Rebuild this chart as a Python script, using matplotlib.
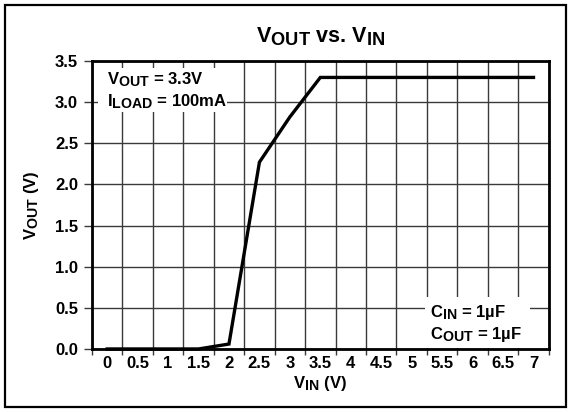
import matplotlib
matplotlib.use('Agg')
import matplotlib.pyplot as plt
import matplotlib._mathtext as mathtext_impl
import numpy as np
from matplotlib.patches import Rectangle

vin_labels = ['0', '0.5', '1', '1.5', '2', '2.5', '3', '3.5',
              '4', '4.5', '5', '5.5', '6', '6.5', '7']
vout = [0, 0, 0, 0, 0.06, 2.27, 2.82, 3.3, 3.3, 3.3, 3.3, 3.3, 3.3, 3.3, 3.3]
y_ticks = [0.0, 0.5, 1.0, 1.5, 2.0, 2.5, 3.0, 3.5]

plt.rcParams['font.family'] = ['Liberation Sans', 'DejaVu Sans']
plt.rcParams['font.weight'] = 'bold'
plt.rcParams['mathtext.fontset'] = 'custom'
plt.rcParams['mathtext.rm'] = 'Liberation Sans:bold'
plt.rcParams['mathtext.it'] = 'Liberation Sans:bold'
plt.rcParams['mathtext.bf'] = 'Liberation Sans:bold'
# subscripts in the original are only a little smaller than the main text
mathtext_impl.SHRINK_FACTOR = 0.85

grid_col = '#3a3a3a'
fs = 12


def main():
    fig = plt.figure(figsize=(5.71, 4.12), dpi=100)
    ax = fig.add_axes([0.161, 0.153, 0.8, 0.699])

    x = np.arange(len(vin_labels))
    ax.plot(x, vout, color='black', linewidth=2.4, zorder=3, clip_on=False,
            solid_joinstyle='miter')

    ax.set_xlim(-0.5, len(vin_labels) - 0.5)
    ax.set_ylim(0, 3.5)

    ax.set_xticks(x)
    ax.set_xticklabels(vin_labels, fontsize=fs, fontweight='bold')
    ax.set_xticks(np.arange(-0.5, len(vin_labels)), minor=True)
    ax.tick_params(axis='x', which='major', length=0, pad=5)
    ax.tick_params(axis='x', which='minor', direction='out', length=4,
                   width=1, color=grid_col)

    ax.set_yticks(y_ticks)
    ax.set_yticklabels(['%.1f' % v for v in y_ticks], fontsize=fs,
                       fontweight='bold')
    ax.tick_params(axis='y', direction='out', length=6, width=1,
                   color=grid_col, pad=4)

    ax.set_axisbelow(True)
    ax.grid(which='minor', axis='x', color=grid_col, linewidth=1)
    ax.grid(which='major', axis='y', color=grid_col, linewidth=1)

    for s in ax.spines.values():
        s.set_linewidth(2)
        s.set_color('black')

    ax.set_xlabel('V$_{\\mathrm{IN}}$ (V)', fontsize=fs, fontweight='bold')
    ax.set_ylabel('V$_{\\mathrm{OUT}}$ (V)', fontsize=fs, fontweight='bold')
    ax.xaxis.set_label_coords(0.5, -0.087)
    ax.yaxis.set_label_coords(-0.112, 0.5)

    # white boxes behind the notes
    ax.add_patch(Rectangle((0.013, 0.823), 0.282, 0.153, transform=ax.transAxes,
                           facecolor='white', edgecolor='none', zorder=1))
    ax.add_patch(Rectangle((0.729, 0.005), 0.23, 0.175, transform=ax.transAxes,
                           facecolor='white', edgecolor='none', zorder=1))

    ax.text(0.033, 0.934, 'V$_{\\mathrm{OUT}}$ = 3.3V', transform=ax.transAxes,
            fontsize=fs, fontweight='bold', va='center', zorder=4)
    ax.text(0.033, 0.858, 'I$_{\\mathrm{LOAD}}$ = 100mA', transform=ax.transAxes,
            fontsize=fs, fontweight='bold', va='center', zorder=4)
    ax.text(0.74, 0.125, 'C$_{\\mathrm{IN}}$ = 1\u00b5F', transform=ax.transAxes,
            fontsize=fs, fontweight='bold', va='center', zorder=4)
    ax.text(0.74, 0.049, 'C$_{\\mathrm{OUT}}$ = 1\u00b5F', transform=ax.transAxes,
            fontsize=fs, fontweight='bold', va='center', zorder=4)

    fig.text(0.561, 0.91, 'V$_{\\mathrm{OUT}}$ vs. V$_{\\mathrm{IN}}$',
             ha='center', va='center', fontsize=15.5, fontweight='bold')

    # outer frame
    fig.patches.append(Rectangle((0.0088, 0.012), 0.982, 0.976,
                                 transform=fig.transFigure, fill=False,
                                 edgecolor='black', linewidth=1.6))

    fig.savefig('out.png', dpi=100)


if __name__ == '__main__':
    main()
